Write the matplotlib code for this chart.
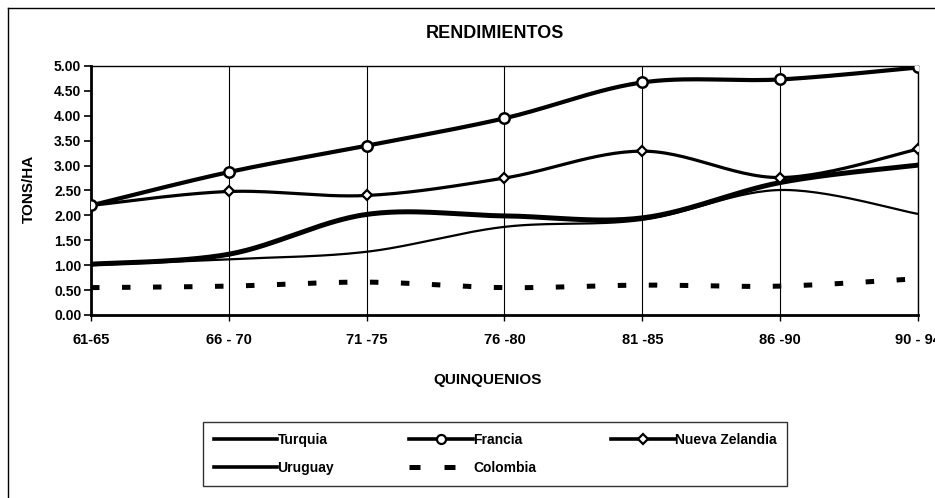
import numpy as np
import matplotlib
matplotlib.use("Agg")
import matplotlib.pyplot as plt
from matplotlib.lines import Line2D

plt.rcParams['font.family'] = ['Liberation Sans', 'DejaVu Sans']
plt.rcParams['font.weight'] = 'bold'

periods = ["61-65", "66 - 70", "71 -75", "76 -80", "81 -85", "86 -90", "90 - 94"]
turquia = [1.00, 1.12, 1.27, 1.77, 1.91, 2.51, 2.03]
francia = [2.20, 2.87, 3.40, 3.95, 4.67, 4.73, 4.97]
nueva_zelandia = [2.20, 2.48, 2.40, 2.75, 3.29, 2.76, 3.33]
uruguay = [1.02, 1.22, 2.02, 1.99, 1.95, 2.66, 3.01]
colombia = [0.55, 0.58, 0.66, 0.55, 0.60, 0.58, 0.73]


def smooth(x, y, n=30):
    x = np.asarray(x, float)
    y = np.asarray(y, float)
    xs, ys = [], []
    m = len(x)
    for i in range(m - 1):
        p0 = (x[i - 1], y[i - 1]) if i > 0 else (x[i], y[i])
        p1 = (x[i], y[i])
        p2 = (x[i + 1], y[i + 1])
        p3 = (x[i + 2], y[i + 2]) if i + 2 < m else (x[i + 1], y[i + 1])
        c1 = (p1[0] + (p2[0] - p0[0]) / 6, p1[1] + (p2[1] - p0[1]) / 6)
        c2 = (p2[0] - (p3[0] - p1[0]) / 6, p2[1] - (p3[1] - p1[1]) / 6)
        t = np.linspace(0, 1, n, endpoint=(i == m - 2))
        bx = (1 - t) ** 3 * p1[0] + 3 * (1 - t) ** 2 * t * c1[0] + 3 * (1 - t) * t ** 2 * c2[0] + t ** 3 * p2[0]
        by = (1 - t) ** 3 * p1[1] + 3 * (1 - t) ** 2 * t * c1[1] + 3 * (1 - t) * t ** 2 * c2[1] + t ** 3 * p2[1]
        xs.append(bx)
        ys.append(by)
    return np.concatenate(xs), np.concatenate(ys)


fig = plt.figure(figsize=(9.35, 4.98), dpi=100)
ax = fig.add_axes([91 / 935, 1 - 315 / 498, (918 - 91) / 935, (315 - 66) / 498])

x = np.arange(len(periods))

# outer chart frame (left and top edges visible)
fig.add_artist(Line2D([8 / 935, 8 / 935], [0, 1 - 8 / 498], color='black', lw=1.0, transform=fig.transFigure))
fig.add_artist(Line2D([8 / 935, 1], [1 - 8 / 498, 1 - 8 / 498], color='black', lw=1.0, transform=fig.transFigure))

sx, sy = smooth(x, colombia)
ax.plot(sx, sy, color='black', lw=3.6, dashes=(1.7, 4.5), zorder=3)
sx, sy = smooth(x, turquia)
ax.plot(sx, sy, color='black', lw=1.6, zorder=4)
sx, sy = smooth(x, uruguay)
ax.plot(sx, sy, color='black', lw=3.6, zorder=4)
sx, sy = smooth(x, nueva_zelandia)
ax.plot(sx, sy, color='black', lw=2.3, zorder=5)
ax.plot(x, nueva_zelandia, ls='none', marker='D', ms=5, mfc='white', mec='black', mew=1.6, zorder=6)
sx, sy = smooth(x, francia)
ax.plot(sx, sy, color='black', lw=3.0, zorder=5)
ax.plot(x, francia, ls='none', marker='o', ms=7.5, mfc='white', mec='black', mew=1.8, zorder=6)

ax.set_xlim(0, len(periods) - 1)
ax.set_ylim(0, 5)
ax.set_yticks(np.arange(0, 5.01, 0.5))
ax.set_yticklabels([f"{v:.2f}" for v in np.arange(0, 5.01, 0.5)])
ax.set_xticks(x)
ax.set_xticklabels(periods)
ax.grid(axis='x', color='black', lw=0.8)
ax.tick_params(axis='y', direction='out', length=5, width=1.2, labelsize=10, pad=2)
ax.tick_params(axis='x', direction='out', length=4, width=1.0, labelsize=10.5, pad=9)
for lab in ax.get_xticklabels() + ax.get_yticklabels():
    lab.set_fontweight('bold')
for s in ['top', 'right']:
    ax.spines[s].set_linewidth(1.0)
for s in ['left', 'bottom']:
    ax.spines[s].set_linewidth(2.0)

fig.text(495 / 935, 1 - 34 / 498, "RENDIMIENTOS", ha='center', va='center', fontsize=13, fontweight='bold')
fig.text(488 / 935, 1 - 380 / 498, "QUINQUENIOS", ha='center', va='center', fontsize=11, fontweight='bold')
fig.text(29 / 935, 1 - 189 / 498, "TONS/HA", ha='center', va='center', rotation=90, fontsize=11, fontweight='bold')

handles = [
    Line2D([], [], color='black', lw=2.6),
    Line2D([], [], color='black', lw=2.6),
    Line2D([], [], color='black', lw=2.6, marker='o', ms=6.5, mfc='white', mec='black', mew=1.6),
    Line2D([], [], color='black', lw=3.6, dashes=(2.2, 4.8, 2.2, 12)),
    Line2D([], [], color='black', lw=2.6, marker='D', ms=5, mfc='white', mec='black', mew=1.6),
]
labels = ["Turquia", "Uruguay", "Francia", "Colombia", "Nueva Zelandia"]
leg = fig.legend(handles, labels, ncol=3, loc='center', bbox_to_anchor=(495 / 935, 1 - 454 / 498),
                 frameon=True, fancybox=False, edgecolor='black', handlelength=4.6, handletextpad=0.0,
                 columnspacing=5.4, labelspacing=1.05, fontsize=10, borderpad=0.75)
leg.get_frame().set_linewidth(1.0)
for t in leg.get_texts():
    t.set_fontweight('bold')

fig.savefig("out.png", dpi=100)
